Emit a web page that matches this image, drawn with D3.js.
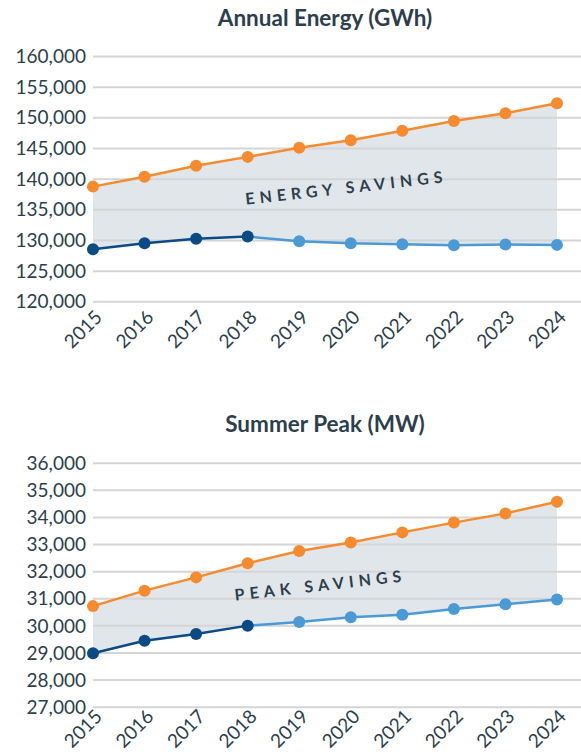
<!DOCTYPE html>
<html>
<head>
<meta charset="utf-8">
<script src="https://cdn.jsdelivr.net/npm/d3@7"></script>
<style>
  body { margin: 0; background: #fff; }
  svg text { font-family: Lato, "Open Sans", sans-serif; fill: #2d3e4c; }
  .grid line { stroke: #d5d5d5; stroke-width: 2; }
  .grid path { display: none; }
  .title { font-weight: 700; font-size: 22.5px; }
  .tick text { font-size: 19px; }
  .note { font-weight: 700; font-size: 16px; letter-spacing: 5px; }
</style>
</head>
<body>
<div id="chart"></div>
<script>
// Years on the x axis
const years = [2015, 2016, 2017, 2018, 2019, 2020, 2021, 2022, 2023, 2024];

// Annual energy (GWh)
const energyNoSavings = [138700, 140300, 142100, 143550, 145050, 146250, 147800, 149400, 150650, 152300];
const energyForecast = [128500, 129450, 130200, 130550, 129800, 129450, 129300, 129150, 129250, 129200];
const energyTicks = [120000, 125000, 130000, 135000, 140000, 145000, 150000, 155000, 160000];

// Summer peak (MW)
const peakNoSavings = [30710, 31280, 31770, 32290, 32740, 33060, 33430, 33790, 34130, 34560];
const peakForecast = [28970, 29430, 29680, 29990, 30120, 30300, 30390, 30600, 30780, 30950];
const peakTicks = [27000, 28000, 29000, 30000, 31000, 32000, 33000, 34000, 35000, 36000];

const lastActualYear = 2018;

const width = 581, height = 755;
const colors = {
    orange: "#f68a2d",
    dark: "#0a4a85",
    light: "#4a9ad6",
    fill: "#e1e6ea"
};

const svg = d3.select("#chart")
    .append("svg")
    .attr("width", width)
    .attr("height", height);

const x = d3.scalePoint()
    .domain(years)
    .range([93, 557]);

function drawPanel(opts) {
    const { title, titleY, upper, lower, ticks, top, bottom, yearGap, note, noteAt } = opts;

    const y = d3.scaleLinear()
        .domain(d3.extent(ticks))
        .range([bottom, top]);

    const rows = years.map((yr, i) => ({ year: yr, hi: upper[i], lo: lower[i] }));
    const g = svg.append("g");

    // Savings band between the two series
    g.append("path")
        .datum(rows)
        .attr("fill", colors.fill)
        .attr("d", d3.area()
            .x(d => x(d.year))
            .y0(d => y(d.lo))
            .y1(d => y(d.hi)));

    // Gridlines and y labels
    g.append("g")
        .attr("class", "grid")
        .attr("transform", `translate(${x(years[0])},0)`)
        .call(d3.axisLeft(y)
            .tickValues(ticks)
            .tickSize(-(width - x(years[0])))
            .tickPadding(7)
            .tickFormat(d3.format(",")))
        .call(ax => ax.selectAll(".tick text").attr("dy", "0.35em"));

    // Rotated year labels
    g.selectAll(".year")
        .data(years)
        .join("text")
        .attr("class", "year")
        .attr("text-anchor", "middle")
        .attr("dy", "0.35em")
        .style("font-size", "19px")
        .attr("transform", d => `translate(${x(d) - 10},${bottom + yearGap}) rotate(-45)`)
        .text(d => d);

    // Title
    g.append("text")
        .attr("class", "title")
        .attr("x", (x.range()[0] + x.range()[1]) / 2)
        .attr("y", titleY)
        .attr("text-anchor", "middle")
        .text(title);

    // Annotation
    g.append("text")
        .attr("class", "note")
        .attr("text-anchor", "middle")
        .attr("transform", `translate(${noteAt[0]},${y(noteAt[1])}) rotate(-6.5)`)
        .text(note);

    const line = d3.line()
        .x(d => x(d.year))
        .y(d => d.v);

    // No-savings line
    g.append("path")
        .datum(rows.map(d => ({ year: d.year, v: y(d.hi) })))
        .attr("fill", "none")
        .attr("stroke", colors.orange)
        .attr("stroke-width", 2.5)
        .attr("d", line);

    // Forecast line: light after last actual year, dark before
    const actual = rows.filter(d => d.year <= lastActualYear);
    const future = rows.filter(d => d.year >= lastActualYear);

    g.append("path")
        .datum(future.map(d => ({ year: d.year, v: y(d.lo) })))
        .attr("fill", "none")
        .attr("stroke", colors.light)
        .attr("stroke-width", 2.5)
        .attr("d", line);

    g.append("path")
        .datum(actual.map(d => ({ year: d.year, v: y(d.lo) })))
        .attr("fill", "none")
        .attr("stroke", colors.dark)
        .attr("stroke-width", 2.5)
        .attr("d", line);

    // Points
    g.selectAll(".hi")
        .data(rows)
        .join("circle")
        .attr("cx", d => x(d.year))
        .attr("cy", d => y(d.hi))
        .attr("r", 6)
        .attr("fill", colors.orange);

    g.selectAll(".lo")
        .data(rows)
        .join("circle")
        .attr("cx", d => x(d.year))
        .attr("cy", d => y(d.lo))
        .attr("r", 6)
        .attr("fill", d => d.year <= lastActualYear ? colors.dark : colors.light);
}

drawPanel({
    title: "Annual Energy (GWh)",
    titleY: 26,
    upper: energyNoSavings,
    lower: energyForecast,
    ticks: energyTicks,
    top: 56,
    bottom: 301.3,
    yearGap: 28,
    note: "ENERGY SAVINGS",
    noteAt: [347, 137600]
});

// bottom labels pulled up a little so they stay inside the page
drawPanel({
    title: "Summer Peak (MW)",
    titleY: 432,
    upper: peakNoSavings,
    lower: peakForecast,
    ticks: peakTicks,
    top: 462.7,
    bottom: 706.7,
    yearGap: 22,
    note: "PEAK SAVINGS",
    noteAt: [321, 31270]
});
</script>
</body>
</html>
